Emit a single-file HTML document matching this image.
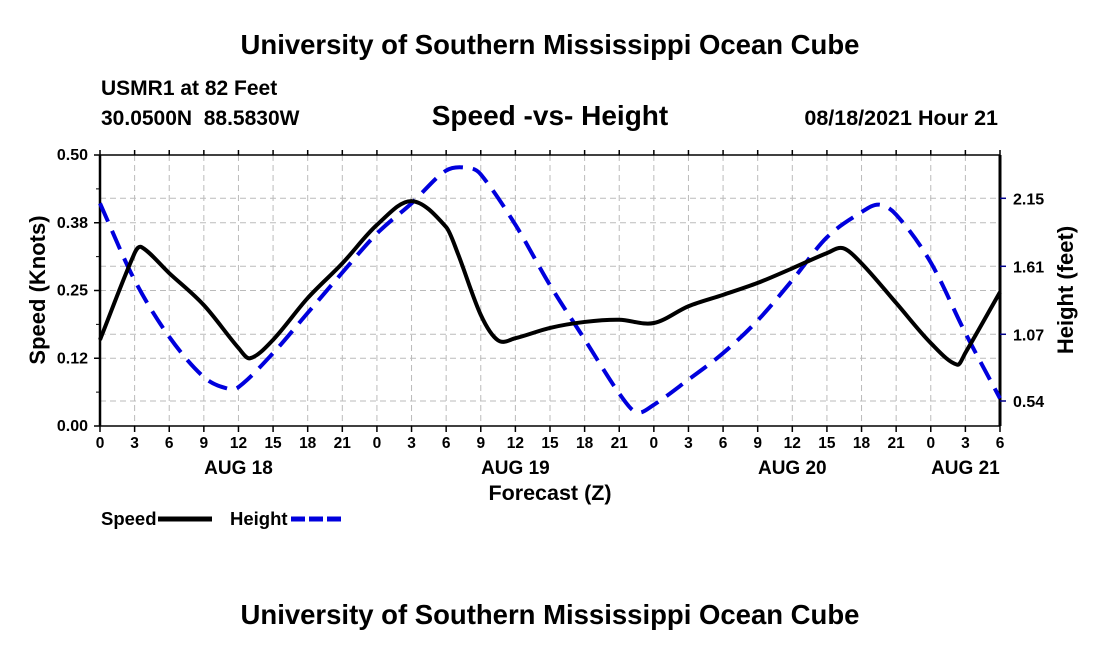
<!DOCTYPE html>
<html><head><meta charset="utf-8"><style>
body{margin:0;background:#fff;width:1100px;height:650px;overflow:hidden;font-family:"Liberation Sans",Arial,sans-serif}
svg text{font-family:"Liberation Sans",Arial,sans-serif;font-weight:bold;fill:#000;white-space:pre}
</style></head><body>
<svg id="chart" width="1100" height="650">
<text x="550" y="54" font-size="27.5" text-anchor="middle">University of Southern Mississippi Ocean Cube</text>
<text x="101" y="95" font-size="21">USMR1 at 82 Feet</text>
<text x="101" y="125" font-size="21" xml:space="preserve">30.0500N  88.5830W</text>
<text x="550" y="125" font-size="28" text-anchor="middle">Speed -vs- Height</text>
<text x="998" y="125" font-size="21.5" text-anchor="end">08/18/2021 Hour 21</text>
<g id="grid"></g>
<g id="axes"></g>
<g id="series"></g>
<text transform="translate(45,290) rotate(-90)" font-size="22" text-anchor="middle">Speed (Knots)</text>
<text transform="translate(1073,290) rotate(-90)" font-size="22" text-anchor="middle">Height (feet)</text>
<text x="550" y="500" font-size="21.5" text-anchor="middle">Forecast (Z)</text>
<g>
<text x="101" y="525" font-size="18.5">Speed</text>
<line x1="158" y1="519" x2="212" y2="519" stroke="#000" stroke-width="5"/>
<text x="230" y="525" font-size="18.5">Height</text>
<line x1="291" y1="519" x2="342" y2="519" stroke="#0000dd" stroke-width="5" stroke-dasharray="14,4"/>
</g>
<text x="550" y="624" font-size="27.5" text-anchor="middle">University of Southern Mississippi Ocean Cube</text>
</svg>
<script>
const speedHours=[0,3,3.6,6,9,12,13,15,18,21,24,27,30,31,33,34.5,36,39,42,45,48,51,54,57,60,63,64.4,66,69,72,74.3,75,78];
const speedValues=[0.159,0.319,0.33,0.282,0.223,0.144,0.125,0.159,0.236,0.30,0.371,0.415,0.367,0.319,0.205,0.158,0.162,0.181,0.192,0.196,0.19,0.221,0.242,0.264,0.291,0.319,0.328,0.30,0.227,0.153,0.113,0.135,0.247];
const heightHours=[0,3,6,9,11,12,15,18,21,24,27,30,32,33,36,39,42,45,46.5,48,51,54,57,60,63,66,67.5,69,72,75,78];
const heightValues=[2.11,1.50,1.05,0.73,0.64,0.65,0.92,1.24,1.56,1.87,2.11,2.37,2.39,2.34,1.94,1.46,1.03,0.60,0.45,0.51,0.71,0.92,1.18,1.50,1.84,2.04,2.10,2.02,1.64,1.08,0.56];
const xTickLabels=["0","3","6","9","12","15","18","21","0","3","6","9","12","15","18","21","0","3","6","9","12","15","18","21","0","3","6"];
const dayLabels=["AUG 18","AUG 19","AUG 20","AUG 21"];
const dayLabelHours=[12,36,60,75];
const speedTicks=["0.00","0.12","0.25","0.38","0.50"];
const speedTickValues=[0,0.125,0.25,0.375,0.5];
const heightTicks=["0.54","1.07","1.61","2.15"];
const heightTickValues=[0.54,1.07,1.61,2.15];

const L=100,R=1000,T=155,B=426;
const xs=h=>L+h*(R-L)/78;
const ys=v=>B-v*(B-T)/0.5;
const yh=v=>198.3+(2.15-v)*125.9;
const NS="http://www.w3.org/2000/svg";
function mk(tag,attrs,parent){const e=document.createElementNS(NS,tag);for(const k in attrs)e.setAttribute(k,attrs[k]);parent.appendChild(e);return e;}
const grid=document.getElementById('grid'),axes=document.getElementById('axes'),series=document.getElementById('series');
for(let i=1;i<xTickLabels.length-1;i++){
  const g=mk('line',{x1:xs(i*3),x2:xs(i*3),y1:T,y2:B,stroke:'#bbb','stroke-dasharray':'6,4','stroke-width':1},grid);
  
  
}
speedTickValues.forEach(v=>{if(v>0&&v<0.5){const g=mk('line',{x1:L,x2:R,y1:ys(v),y2:ys(v),stroke:'#bbb','stroke-dasharray':'6,4'},grid);
  
  }});
heightTickValues.forEach(v=>{const g=mk('line',{x1:L,x2:R,y1:yh(v),y2:yh(v),stroke:'#bbb','stroke-dasharray':'6,4'},grid);
  
  });
mk('line',{x1:L,x2:R,y1:T,y2:T,stroke:'#000','stroke-width':1.5},axes);
mk('line',{x1:L,x2:R,y1:B,y2:B,stroke:'#000','stroke-width':1.5},axes);
mk('line',{x1:L,x2:L,y1:T,y2:B,stroke:'#000','stroke-width':2.5},axes);
mk('line',{x1:R,x2:R,y1:T,y2:B,stroke:'#000','stroke-width':3},axes);
xTickLabels.forEach((t,i)=>{const x=xs(i*3);
  mk('line',{x1:x,x2:x,y1:B,y2:B+6,stroke:'#000','stroke-width':1.5},axes);
  mk('line',{x1:x,x2:x,y1:T,y2:T-5,stroke:'#000','stroke-width':1.5},axes);
  const tx=mk('text',{x:x,y:448,'font-size':15.5,'text-anchor':'middle'},axes);tx.textContent=t;
  
  });
dayLabels.forEach((t,i)=>{const tx=mk('text',{x:xs(dayLabelHours[i]),y:474,'font-size':19,'text-anchor':'middle'},axes);tx.textContent=t;
  
  });
speedTicks.forEach((t,i)=>{const y=ys(speedTickValues[i]);
  mk('line',{x1:L-6,x2:L,y1:y,y2:y,stroke:'#000','stroke-width':1.5},axes);
  const tx=mk('text',{x:L-12,y:y+5,'font-size':16,'text-anchor':'end'},axes);tx.textContent=t;
  
  });
for(let v=0.0625;v<0.5;v+=0.125){mk('line',{x1:L-4,x2:L,y1:ys(v),y2:ys(v),stroke:'#000'},axes);}
heightTicks.forEach((t,i)=>{const y=yh(heightTickValues[i]);
  mk('line',{x1:R,x2:R+6,y1:y,y2:y,stroke:'#00008b','stroke-width':1.5},axes);
  const tx=mk('text',{x:R+13,y:y+6,'font-size':16},axes);tx.textContent=t;
  
  });
function smooth(pts){const n=pts.length,m=[];
  for(let i=0;i<n;i++){const a=pts[Math.max(0,i-1)],b=pts[Math.min(n-1,i+1)];m.push((b[1]-a[1])/(b[0]-a[0]));}
  let d=`M${pts[0][0]},${pts[0][1]}`;
  for(let i=0;i<n-1;i++){const p1=pts[i],p2=pts[i+1],dx=(p2[0]-p1[0])/3;
    d+=` C${p1[0]+dx},${p1[1]+m[i]*dx} ${p2[0]-dx},${p2[1]-m[i+1]*dx} ${p2[0]},${p2[1]}`;}
  return d;}
const hp=mk('path',{d:smooth(heightHours.map((h,i)=>[xs(h),yh(heightValues[i])])),fill:'none',stroke:'#0000dd','stroke-width':4,'stroke-dasharray':'20,10'},series);


const sp=mk('path',{d:smooth(speedHours.map((h,i)=>[xs(h),ys(speedValues[i])])),fill:'none',stroke:'#000','stroke-width':4},series);


</script>
</body></html>
